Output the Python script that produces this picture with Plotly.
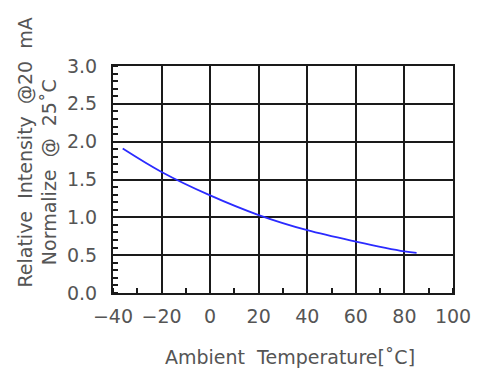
import plotly.graph_objects as go

temperature = [-36, -20, 0, 20, 40, 60, 80, 85]
relative_intensity = [1.91, 1.60, 1.29, 1.03, 0.83, 0.68, 0.55, 0.53]

x_ticks = [-40, -20, 0, 20, 40, 60, 80, 100]
y_ticks = [0.0, 0.5, 1.0, 1.5, 2.0, 2.5, 3.0]

FONT = "DejaVu Sans"
GRAY = "#555555"
DARK = "#1a1a1a"

# page offset of 8px (body margin) is absorbed by a slightly smaller figure
W, H = 475, 361
L, T, PW, PH = 105, 58, 346, 227

def px_to_paper_x(page_x):
    return (page_x - 8 - L) / PW

def px_to_paper_y(page_y):
    return 1 - (page_y - 8 - T) / PH

fig = go.Figure()
fig.add_trace(go.Scatter(
    x=temperature, y=relative_intensity, mode="lines",
    line=dict(color="#2b2bff", width=1.8, shape="spline"),
    showlegend=False, hoverinfo="skip"))

fig.update_layout(
    width=W, height=H,
    margin=dict(l=L, r=W - L - PW, t=T, b=H - T - PH),
    paper_bgcolor="white", plot_bgcolor="white",
    font=dict(family=FONT, color=GRAY, size=19),
    xaxis=dict(range=[-40, 100], tickvals=x_ticks,
               ticktext=[("\u2212" + str(-v)) if v < 0 else str(v) for v in x_ticks],
               showgrid=True, gridcolor=DARK, gridwidth=1.6,
               showline=True, linecolor=DARK, linewidth=2, mirror=True,
               zeroline=False, ticks="", ticklabelstandoff=5,
               minor=dict(dtick=10, tick0=0, ticks="inside", ticklen=5, tickcolor=DARK, tickwidth=1.5, showgrid=False),
               tickfont=dict(size=19, color=GRAY, family=FONT)),
    yaxis=dict(range=[0, 3], tickvals=y_ticks, ticktext=[f"{v:.1f}" for v in y_ticks],
               showgrid=True, gridcolor=DARK, gridwidth=1.6,
               showline=True, linecolor=DARK, linewidth=2, mirror=True,
               zeroline=False, ticks="", ticklabelstandoff=10,
               minor=dict(dtick=0.1, tick0=0, ticks="inside", ticklen=5, tickcolor=DARK, tickwidth=1.5, showgrid=False),
               tickfont=dict(size=19, color=GRAY, family=FONT)),
    annotations=[
        dict(text="Ambient  Temperature[\u02daC]", xref="paper", yref="paper",
             x=px_to_paper_x(293), y=px_to_paper_y(357),
             xanchor="center", yanchor="middle", showarrow=False, font=dict(size=19, color=GRAY, family=FONT)),
        dict(text="Relative  Intensity  @20  mA", xref="paper", yref="paper",
             x=px_to_paper_x(23), y=px_to_paper_y(153),
             xanchor="center", yanchor="middle", textangle=-90, showarrow=False, font=dict(size=19, color=GRAY, family=FONT)),
        dict(text="Normalize  @  25\u02daC", xref="paper", yref="paper",
             x=px_to_paper_x(48), y=px_to_paper_y(172),
             xanchor="center", yanchor="middle", textangle=-90, showarrow=False, font=dict(size=19, color=GRAY, family=FONT)),
    ],
)

fig.write_html("out.html")
